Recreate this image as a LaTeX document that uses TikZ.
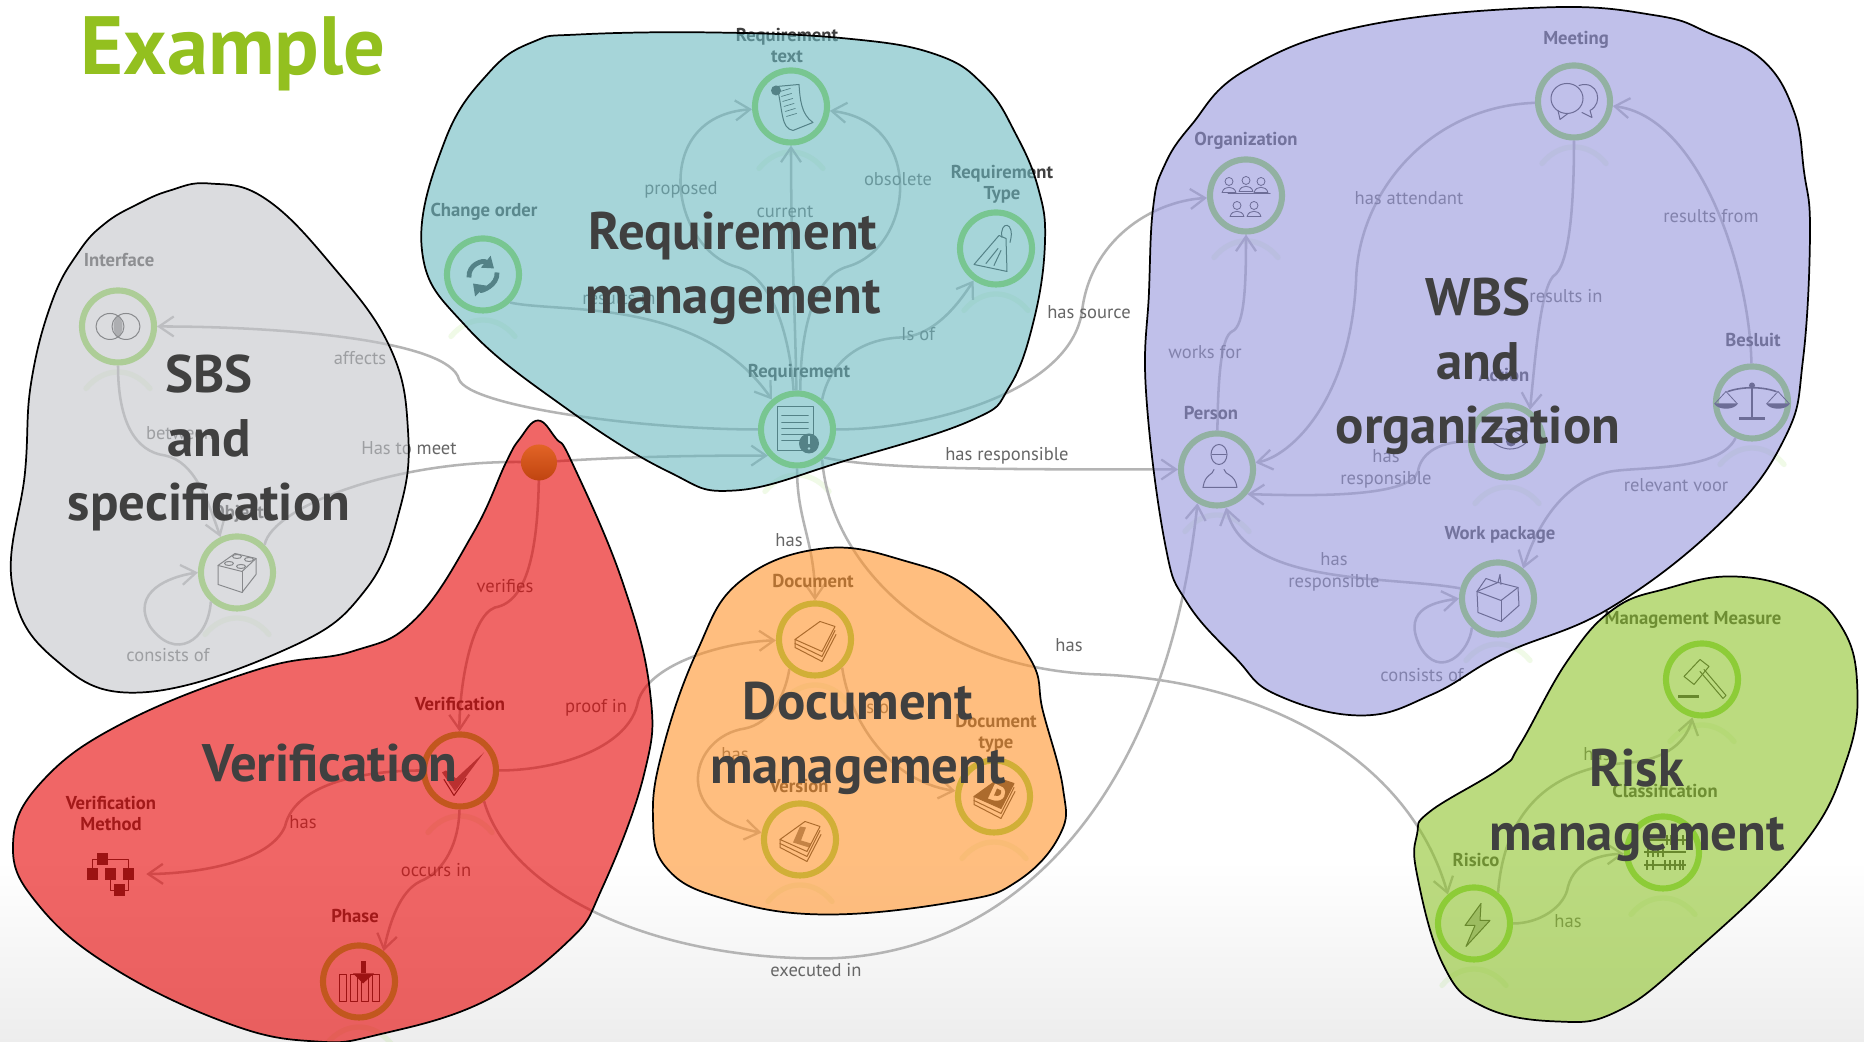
\documentclass[tikz,border=0pt]{standalone}
\usepackage{fontspec}
\setmainfont{PT Sans}
\usetikzlibrary{arrows.meta}
\definecolor{connc}{HTML}{B4B4B4}
\definecolor{ringc}{HTML}{8CDA4B}
\definecolor{icc}{HTML}{303030}
\definecolor{labc}{HTML}{404040}
\definecolor{elabc}{HTML}{666666}
\definecolor{titlec}{HTML}{404040}
\tikzset{
  x=0.75pt,y=-0.75pt,
  ringnode/.style={circle,draw=ringc,line width=4.6pt,minimum size=54pt,inner sep=0pt},
  bare/.style={circle,minimum size=54pt,inner sep=0pt},
  conn/.style={draw=connc,line width=1.9pt,-{Straight Barb[length=11pt,width=15pt,line width=1.7pt]}},
  nlabel/.style={text=labc,font=\fontsize{14}{16}\selectfont\bfseries,align=center,inner sep=0pt},
  elabel/.style={text=elabc,font=\fontsize{13.9}{16.5}\selectfont,align=center,inner sep=0pt},
  blob/.style={fill opacity=.6,draw opacity=1,draw=black,line width=1.3pt},
  bigtitle/.style={text=titlec,font=\fontsize{39.6}{48}\selectfont\bfseries,align=center,inner sep=0pt},
  ic/.style={draw=icc,line width=.75pt,line join=round,line cap=round},
  glow/.style={draw=ringc,line width=4pt,opacity=.13,line cap=round},
}
\newcommand{\glowat}[1]{\draw[glow] ([shift={(-32,62)}]#1.center) .. controls ([shift={(-14,40)}]#1.center) and ([shift={(14,40)}]#1.center) .. ([shift={(32,62)}]#1.center);}
\newcommand{\stackicon}[2][]{%
  \begin{scope}[shift={(#2.center)}]
    \draw[ic,#1] (5,-18) -- (20,-13) -- (7,12) -- (-20,0) -- cycle;
    \draw[ic] (-20,0) -- (-20,4) -- (7,17) -- (20,-9);
    \draw[ic] (-20,4) -- (-20,8) -- (7,22) -- (21,-5);
  \end{scope}}
\begin{document}
\begin{tikzpicture}
\useasboundingbox (0,0) rectangle (1864,1042);
\fill[white] (0,0) rectangle (1864,1042);
\shade[top color=white,bottom color=black!7] (0,860) rectangle (1864,1042);
\begin{scope}[yshift=-1.1pt]

% ---------- concept nodes
\node[ringnode] (int) at (118,325) {};
\node[ringnode] (obj) at (237,571) {};
\node[ringnode] (cho) at (483,273) {};
\node[ringnode] (txt) at (791,105) {};
\node[ringnode] (typ) at (996,247) {};
\node[ringnode] (req) at (797,428) {};
\node[ringnode] (org) at (1246,194) {};
\node[ringnode] (mee) at (1574,100) {};
\node[ringnode] (per) at (1217,468) {};
\node[ringnode] (act) at (1507,440) {};
\node[ringnode] (bes) at (1752,401) {};
\node[ringnode] (wpk) at (1498,597) {};
\node[ringnode] (ver) at (460,769) {};
\node[bare]     (vme) at (110,873) {};
\node[ringnode] (pha) at (359,980) {};
\node[ringnode] (doc) at (815,638) {};
\node[ringnode] (vsn) at (800,838) {};
\node[ringnode] (dty) at (994,795) {};
\node[ringnode] (mme) at (1702,678) {};
\node[ringnode] (cla) at (1663,851) {};
\node[ringnode] (ris) at (1474,922) {};
\coordinate (pinc) at (539,461);

\foreach \n in {int,obj,cho,txt,typ,req,org,mee,per,act,bes,wpk,ver,pha,doc,vsn,dty,mme,cla,ris}{\glowat{\n}}

% ---------- icons
\begin{scope}[shift={(int.center)}]
  \fill[icc,opacity=.55] (0,-11) .. controls (-6,-5) and (-6,5) .. (0,11) .. controls (6,5) and (6,-5) .. (0,-11);
  \draw[ic] (-8,0) ellipse (14 and 13); \draw[ic] (8,0) ellipse (14 and 13);
\end{scope}
\begin{scope}[shift={(obj.center)}]
  \draw[ic] (-19,-7) -- (-19,12) -- (5,20) -- (19,2) -- (19,-14) -- (-2,-19) -- cycle;
  \draw[ic] (-19,-7) -- (5,-1) -- (19,-14); \draw[ic] (5,-1) -- (5,20);
  \foreach \a/\b in {-8/-9,4/-6,0/-16,12/-13}{\draw[ic] (\a,\b) ellipse (4.5 and 2);}
\end{scope}
\begin{scope}[shift={(cho.center)}]
  \draw[icc,line width=3.6pt,-{Triangle[length=8pt,width=11pt]}] (-14,3) .. controls (-15,-10) and (0,-15) .. (11,-6);
  \draw[icc,line width=3.6pt,-{Triangle[length=8pt,width=11pt]}] (14,-2) .. controls (15,11) and (-2,17) .. (-10,9);
\end{scope}
\begin{scope}[shift={(txt.center)}]
  \draw[ic] (-14,-20) -- (8,-22) .. controls (9,-8) and (10,8) .. (22,16) -- (2,24) .. controls (-10,22) and (-8,5) .. (-14,-20);
  \fill[icc] (-15,-16) circle (5);
  \foreach \a/\b in {-15/-4,-10/-2,-5/-1,0/1,5/4,10/6}{\draw[ic,line width=.5pt] (-7+\a*.25,\a) -- (3+\a*.25,\a-3);}
\end{scope}
\begin{scope}[shift={(typ.center)}]
  \draw[ic] (-22,16) -- (3,-13) -- (10,-10) -- (11,23) -- cycle;
  \draw[ic] (6,-11) .. controls (3,-28) and (20,-28) .. (14,-6);
  \draw[ic] (-10,15) -- (2,0) (-2,17) -- (5,2);
\end{scope}
\begin{scope}[shift={(req.center)}]
  \draw[ic] (-20,-23) rectangle (16,21);
  \foreach \b in {-14,-7,-1,5,11}{\draw[ic,line width=1.2pt] (-15,\b) -- (11,\b);}
  \fill[icc] (12,14) circle (10);
  \draw[white,line width=1.6pt] (12,7) -- (12,15); \fill[white] (12,19) circle (1.4);
\end{scope}
\begin{scope}[shift={(org.center)}]
  \foreach \a/\b in {-17/-14,0/-15,15/-14,-9/10,8/10}{
    \draw[ic,line width=.6pt] (\a,\b) circle (4);
    \draw[ic,line width=.6pt] (\a-7,\b+11) .. controls (\a-5,\b+4) and (\a+5,\b+4) .. (\a+7,\b+11) -- cycle;}
  \draw[ic] (-18,-2) -- (24,-2);
\end{scope}
\begin{scope}[shift={(mee.center)}]
  \draw[ic] (-7,-3) ellipse (16 and 15);
  \draw[ic] (5,-16) .. controls (24,-22) and (30,2) .. (16,9) -- (18,16) -- (8,11);
  \draw[ic] (-16,9) -- (-14,18) -- (-6,12);
\end{scope}
\begin{scope}[shift={(per.center)}]
  \draw[ic] (2,-15) ellipse (8 and 10); \draw[ic] (-5,-15) -- (9,-15);
  \draw[ic] (-14,18) .. controls (-12,4) and (-4,6) .. (-3,0);
  \draw[ic] (7,0) .. controls (8,6) and (18,4) .. (20,18) -- (-14,18);
\end{scope}
\begin{scope}[shift={(act.center)}]
  \draw[ic] (-22,-8) .. controls (-8,-16) and (8,-14) .. (20,0) .. controls (10,12) and (-10,10) .. (-22,-8);
  \fill[icc] (4,0) circle (5);
\end{scope}
\begin{scope}[shift={(bes.center)}]
  \draw[ic,line width=1.2pt] (-24,-11) .. controls (-10,-16) and (10,-16) .. (24,-11);
  \draw[icc,line width=2pt] (0,-15) -- (0,15); \draw[icc,line width=2pt] (-13,16) -- (13,16);
  \fill[icc] (0,-17) circle (3);
  \draw[ic,line width=.6pt] (-37,1) -- (-26,-11) -- (-15,1) (37,1) -- (26,-11) -- (15,1);
  \fill[icc] (-38,1) .. controls (-34,8) and (-18,8) .. (-14,1) -- cycle;
  \fill[icc] (38,1) .. controls (34,8) and (18,8) .. (14,1) -- cycle;
\end{scope}
\begin{scope}[shift={(wpk.center)}]
  \draw[ic] (-21,-7) -- (-20,14) -- (3,23) -- (21,7) -- (20,-11) -- (0,-16) -- cycle;
  \draw[ic] (-21,-7) -- (3,2) -- (20,-11); \draw[ic] (3,2) -- (3,23);
  \draw[ic] (-21,-7) -- (-12,-20) -- (-1,-16) (0,-16) -- (2,-24) -- (3,-14);
\end{scope}
\begin{scope}[shift={(ver.center)}]
  \fill[icc,opacity=.65] (-18,2) -- (-5,21) -- (24,-18) -- (-4,8) -- (-14,0) -- cycle;
  \draw[ic] (-16,9) -- (-6,25) -- (6,8);
\end{scope}
\begin{scope}[shift={(vme.center)}]
  \draw[ic] (-8,-15) -- (18,-15) -- (18,0) (-18,0) -- (-18,-15) -- (-8,-15) (0,0) -- (0,16) -- (9,16) -- (18,16) -- (18,0);
  \foreach \a/\b in {-8/-15,-18/0,0/0,18/0,9/16}{\fill[icc] (\a-5.5,\b-6) rectangle (\a+5.5,\b+6);}
\end{scope}
\begin{scope}[shift={(pha.center)}]
  \foreach \a in {-20,-9,2,13}{\draw[ic] (\a,-7) rectangle (\a+7,20);}
  \fill[icc] (2,-20) rectangle (7,-8);
  \fill[icc] (-6,-8) -- (15,-8) -- (4,2) -- cycle;
\end{scope}
\stackicon{doc}
\stackicon{vsn}
\begin{scope}[shift={(vsn.center)}]
  \fill[icc,opacity=.7] (0,-13) -- (6,-12) -- (1,1) -- (11,4) -- (9,8) -- (-7,3) -- cycle;
\end{scope}
\stackicon[fill=icc]{dty}
\begin{scope}[shift={(dty.center)}]
  \fill[white] (1,-13) -- (9,-9) .. controls (14,-4) and (10,6) .. (0,4) -- (-6,2) -- cycle;
  \fill[icc] (3,-8) -- (7,-6) .. controls (8,-3) and (6,1) .. (0,-1) -- cycle;
\end{scope}
\begin{scope}[shift={(mme.center)}]
  \draw[ic] (-2,-8) -- (21,19) -- (24,16) -- (2,-10);
  \draw[ic] (-18,-3) -- (-2,-20) -- (7,-13) -- (-8,5) -- cycle;
  \draw[icc,line width=1.8pt] (-24,17) -- (-3,17);
\end{scope}
\begin{scope}[shift={(cla.center)}]
  \foreach \b in {-12,0,13}{\draw[icc,line width=1.5pt] (-19,\b) -- (23,\b);}
  \foreach \a/\b in {-15/0,-10/0,-5/0,0/0,4/-12,8/-12,14/-12,20/-12,-16/13,-10/13,2/13,7/13,12/13,17/13,20/13}{\draw[icc,line width=1.2pt] (\a,\b-5) -- (\a,\b+5);}
\end{scope}
\begin{scope}[shift={(ris.center)}]
  \draw[ic,fill=icc,fill opacity=.35] (7,-20) -- (-9,2) -- (1,2) -- (-8,23) -- (16,-3) -- (6,-3) -- cycle;
\end{scope}

% ---------- connectors
\draw[conn] (req) .. controls (640,428) and (470,405) .. (459,378) .. controls (450,340) and (290,325) .. (int);
\draw[conn] (int) .. controls (118,420) and (135,450) .. (165,454) .. controls (195,460) and (208,500) .. (obj.115);
\draw[conn] (obj.45) .. controls (272,505) and (400,455) .. (pinc) .. controls (620,455) and (700,454) .. (req.222);
\draw[conn] (pinc) .. controls (539,540) and (530,600) .. (495,606) .. controls (470,615) and (459,690) .. (ver);
\draw[conn] (cho.-46) .. controls (560,312) and (700,295) .. (req.130);
\draw[conn] (req.95) .. controls (790,340) and (775,275) .. (735,265) .. controls (670,245) and (650,115) .. (txt);
\draw[conn] (req) .. controls (795,300) and (791,250) .. (txt);
\draw[conn] (req.85) .. controls (800,340) and (810,275) .. (848,265) .. controls (915,245) and (925,120) .. (txt);
\draw[conn] (req.50) .. controls (830,360) and (860,338) .. (900,336) .. controls (935,335) and (960,300) .. (typ.235);
\draw[conn] (req) .. controls (930,428) and (1070,390) .. (1082,310) .. controls (1090,240) and (1150,200) .. (org);
\draw[conn] (req.-46) .. controls (880,468) and (1000,468) .. (per);
\draw[conn] (req) .. controls (797,520) and (815,540) .. (doc);
\draw[conn] (req.-50) .. controls (830,560) and (930,668) .. (1100,673) .. controls (1270,680) and (1410,760) .. (ris.132);
\draw[conn] (ver.-52) .. controls (510,890) and (650,957) .. (820,957) .. controls (1010,957) and (1165,800) .. (per.240);
\draw[conn] (ver) .. controls (560,769) and (630,745) .. (638,700) .. controls (650,660) and (730,640) .. (doc);
\draw[conn] (ver) .. controls (370,769) and (295,780) .. (285,825) .. controls (270,860) and (200,872) .. (vme);
\draw[conn] (ver) .. controls (459,840) and (445,870) .. (420,880) .. controls (400,890) and (390,920) .. (pha.51);
\draw[conn] (obj.228) .. controls (208,640) and (175,660) .. (150,625) .. controls (130,590) and (170,575) .. (obj.180);
\draw[conn] (wpk.228) .. controls (1470,650) and (1440,680) .. (1420,645) .. controls (1400,605) and (1440,600) .. (wpk.180);
\draw[conn] (per) .. controls (1218,370) and (1222,335) .. (1232,330) .. controls (1245,325) and (1246,280) .. (org);
\draw[conn] (mee) .. controls (1430,105) and (1358,190) .. (1356,280) .. controls (1350,400) and (1290,455) .. (per);
\draw[conn] (mee) .. controls (1574,200) and (1570,265) .. (1553,275) .. controls (1540,290) and (1535,360) .. (act.54);
\draw[conn] (act) .. controls (1435,440) and (1420,455) .. (1418,470) .. controls (1410,495) and (1320,495) .. (per.-39);
\draw[conn] (bes) .. controls (1750,270) and (1700,115) .. (mee);
\draw[conn] (bes) .. controls (1720,470) and (1640,465) .. (1611,470) .. controls (1560,480) and (1535,530) .. (wpk.50);
\draw[conn] (wpk.165) .. controls (1390,574) and (1245,585) .. (per);
\draw[conn] (ris.52) .. controls (1505,800) and (1560,768) .. (1620,762) .. controls (1660,760) and (1685,745) .. (mme);
\draw[conn] (ris) .. controls (1540,922) and (1565,905) .. (1568,885) .. controls (1575,860) and (1600,853) .. (cla);
\draw[conn] (doc.229) .. controls (785,695) and (770,722) .. (745,727) .. controls (690,735) and (670,815) .. (vsn);
\draw[conn] (doc.-46) .. controls (850,720) and (890,780) .. (dty);

% ---------- node labels
\node[nlabel] (lint) at (119,259) {Interface};
\node[nlabel] (lobj) at (238,512) {Object};
\node[nlabel] (lcho) at (484,210) {Change order};
\node[nlabel] (ltxt) at (787,44) {Requirement\\text};
\node[nlabel] (ltyp) at (1002,183) {Requirement\\Type};
\node[nlabel] (lreq) at (799,371) {Requirement};
\node[nlabel] (lorg) at (1246,139) {Organization};
\node[nlabel] (lmee) at (1576,38) {Meeting};
\node[nlabel] (lper) at (1211,412) {Person};
\node[nlabel] (lact) at (1504,374) {Action};
\node[nlabel] (lbes) at (1753,339) {Besluit};
\node[nlabel] (lwpk) at (1500,533) {Work package};
\node[nlabel] (lver) at (460,703) {Verification};
\node[nlabel] (lvme) at (111,812) {Verification\\Method};
\node[nlabel] (lpha) at (355,915) {Phase};
\node[nlabel] (ldoc) at (813,580) {Document};
\node[nlabel] (ldty) at (996,732) {Document\\type};
\node[nlabel] (lvsn) at (799,785) {Version};
\node[nlabel] (lmme) at (1693,618) {Management Measure};
\node[nlabel] (lcla) at (1665,789) {Classification};
\node[nlabel] (lris) at (1476,859) {Risico};

% ---------- connector labels
\node[elabel] (e1) at (360,357) {affects};
\node[elabel] (e2) at (180,432) {between};
\node[elabel] (e3) at (409,447) {Has to meet};
\node[elabel] (e4) at (168,654) {consists of};
\node[elabel] (e5) at (681,188) {proposed};
\node[elabel] (e6) at (785,210) {current};
\node[elabel] (e7) at (898,178) {obsolete};
\node[elabel] (e8) at (619,297) {results in};
\node[elabel] (e9) at (918,333) {Is of};
\node[elabel] (e10) at (1089,311) {has source};
\node[elabel] (e11) at (1007,454) {has responsible};
\node[elabel] (e12) at (789,539) {has};
\node[elabel] (e13) at (1069,644) {has};
\node[elabel] (e14) at (505,585) {verifies};
\node[elabel] (e15) at (596,706) {proof in};
\node[elabel] (e16) at (303,821) {has};
\node[elabel] (e17) at (436,869) {occurs in};
\node[elabel] (e18) at (816,969) {executed in};
\node[elabel] (e19) at (735,753) {has};
\node[elabel] (e20) at (878,706) {is of};
\node[elabel] (e21) at (1409,197) {has attendant};
\node[elabel] (e22) at (1711,215) {results from};
\node[elabel] (e23) at (1566,295) {results in};
\node[elabel] (e24) at (1205,351) {works for};
\node[elabel] (e25) at (1386,467) {has\\responsible};
\node[elabel] (e26) at (1676,484) {relevant voor};
\node[elabel] (e27) at (1334,570) {has\\responsible};
\node[elabel] (e28) at (1422,674) {consists of};
\node[elabel] (e29) at (1597,753) {has};
\node[elabel] (e30) at (1568,920) {has};

% ---------- translucent domains
\draw[blob,fill={rgb,255:red,195;green,197;blue,202}] plot[smooth cycle,tension=.7] coordinates {(209,182) (265,197) (332,264) (390,346) (408,429) (400,507) (365,589) (290,646) (141,691) (54,657) (12,582) (25,471) (31,382) (52,300) (79,250) (105,222) (137,203) (170,189)};
\draw[blob,fill={rgb,255:red,108;green,185;blue,193}] plot[smooth cycle,tension=.7] coordinates {(579,33) (712,31) (846,37) (936,53) (985,85) (1016,133) (1038,186) (1045,240) (1034,318) (1009,386) (971,419) (846,459) (735,489) (668,470) (565,406) (467,326) (422,249) (445,139) (490,70) (534,40)};
\draw[blob,fill={rgb,255:red,150;green,150;blue,220}] plot[smooth cycle,tension=.7] coordinates {(1544,6) (1656,14) (1710,32) (1763,59) (1794,110) (1804,170) (1810,230) (1803,358) (1785,436) (1723,519) (1611,606) (1504,652) (1432,693) (1361,714) (1276,693) (1236,657) (1187,601) (1165,542) (1146,390) (1149,290) (1153,207) (1164,165) (1191,124) (1245,69) (1361,25)};
\draw[blob,fill={rgb,255:red,230;green,0;blue,0}] plot[smooth cycle,tension=.7] coordinates {(520,437) (538,419) (556,437) (572,461) (622,579) (650,690) (644,773) (602,887) (568,940) (484,1000) (379,1033) (316,1040) (231,1023) (114,967) (38,903) (13,843) (42,780) (126,720) (261,667) (352,650) (415,618) (473,532) (506,461)};
\draw[blob,fill={rgb,255:red,255;green,147;blue,43}] plot[smooth cycle,tension=.7] coordinates {(823,547) (907,560) (973,590) (1030,657) (1043,710) (1063,787) (1060,833) (1017,880) (957,900) (823,913) (723,897) (667,867) (653,817) (663,747) (697,650) (740,580)};
\draw[blob,fill={rgb,255:red,142;green,195;blue,43}] plot[smooth cycle,tension=.7] coordinates {(1733,575) (1800,590) (1840,623) (1857,680) (1847,757) (1800,847) (1687,957) (1617,1010) (1557,1020) (1483,1005) (1443,963) (1417,873) (1417,833) (1430,810) (1500,767) (1520,743) (1567,660) (1613,608) (1667,587)};

% ---------- pin
\node[circle,minimum size=27pt,inner sep=0pt,top color={rgb,255:red,226;green,100;blue,38},bottom color={rgb,255:red,192;green,68;blue,16}] (pin) at (pinc) {};

% ---------- titles
\node[bigtitle] (t1) at (209,441.5) {SBS\\and\\specification};
\node[bigtitle] (t2) at (733,266.5) {Requirement\\management};
\node[bigtitle] (t3) at (1478,364.5) {WBS\\and\\organization};
\node[bigtitle] (t4) at (330,762) {Verification};
\node[bigtitle] (t5) at (858,736.5) {Document\\management};
\node[bigtitle] (t6) at (1637,803.5) {Risk\\management};
\node[text={rgb,255:red,147;green,192;blue,31},font=\fontsize{62}{64}\selectfont\bfseries,inner sep=0pt] (ex) at (233,52.5) {Example};
\end{scope}
\end{tikzpicture}
\end{document}
